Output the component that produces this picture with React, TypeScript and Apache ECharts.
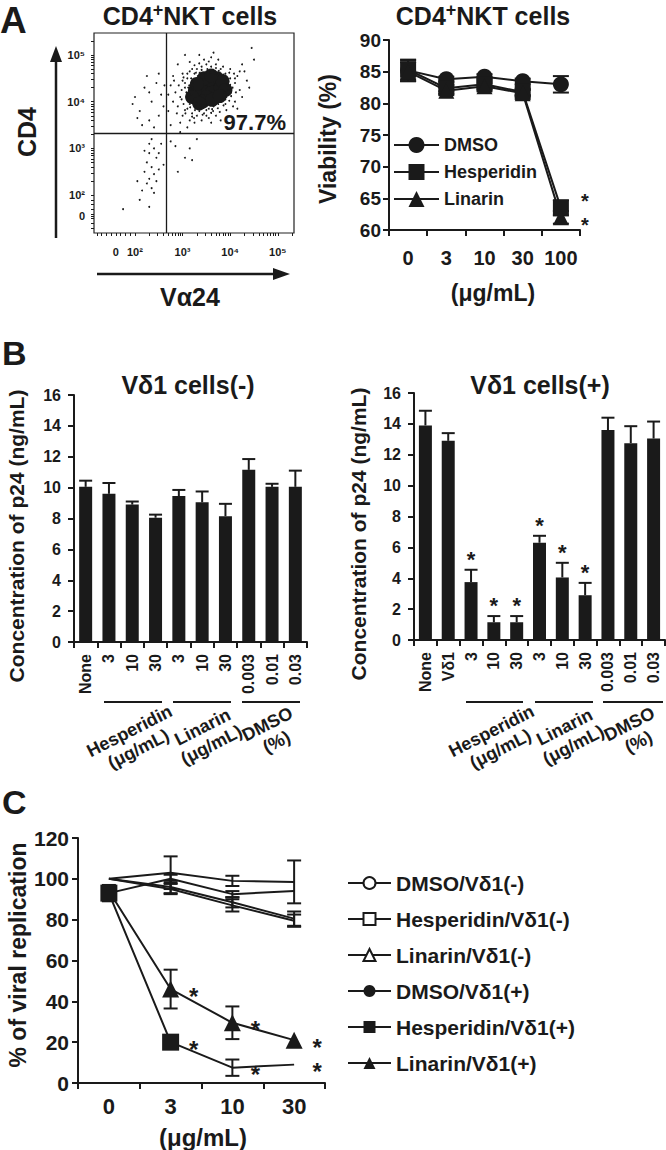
import React, { useEffect, useRef } from 'react';
import * as echarts from 'echarts';

const FONT = 'Liberation Sans, Arial, Helvetica, sans-serif';
const INK = '#1a1a1a';

// ---------------- Panel A: flow cytometry dot plot ----------------
const flowTitle = '{a|CD4}{s|+}{a|NKT cells}';
const flowXName = 'Vα24';
const flowYName = 'CD4';
const flowTickPosX = [1.6, 2, 3, 4, 5];
const flowTickPosY = [1.55, 2, 3, 4, 5];
const flowTickLabels = ['0', '10²', '10³', '10⁴', '10⁵'];
const flowGateX = 2.65;
const flowGateY = 3.33;
const flowPercent = '97.7%';
// dense core of the population (log-decade units)
const flowCore: [number, number][] = [
  [3.52, 4.29], [3.36, 4.2], [3.68, 4.38], [3.42, 4.36], [3.62, 4.2], [3.3, 4.06], [3.5, 4.1],
  [3.72, 4.5], [3.56, 4.48], [3.8, 4.3], [3.26, 4.24], [3.42, 4.0], [3.62, 4.04], [3.84, 4.44],
  [3.45, 4.5], [3.2, 4.1], [3.9, 4.25], [3.3, 4.38], [3.78, 4.12], [3.6, 4.56], [3.35, 3.96],
];
// individual events
const flowDots: [number, number][] = [
  [2.9, 3.9], [2.95, 4.1], [3.0, 3.7], [3.05, 4.3], [3.1, 3.85], [3.1, 4.5], [3.15, 3.6], [3.0, 4.45],
  [2.85, 4.2], [3.2, 3.75], [3.25, 4.6], [3.3, 3.7], [3.3, 4.7], [3.35, 3.8], [3.4, 4.75], [3.45, 3.75],
  [3.5, 4.8], [3.55, 3.85], [3.6, 4.75], [3.65, 3.9], [3.7, 4.8], [3.75, 3.95], [3.8, 4.7], [3.85, 4.05],
  [3.9, 4.6], [3.95, 4.15], [4.0, 4.5], [4.05, 4.3], [4.1, 4.4], [4.0, 4.7], [3.9, 3.95], [4.15, 4.55],
  [4.2, 4.25], [3.75, 4.9], [3.6, 4.95], [3.45, 4.9], [4.3, 4.65], [2.95, 3.55], [3.1, 3.45], [3.25, 3.55],
  [3.4, 3.6], [3.55, 3.65], [3.7, 3.7], [2.8, 4.0], [2.75, 4.35], [3.15, 4.65], [3.0, 4.6], [4.1, 4.0],
  [4.25, 4.8], [4.35, 4.45], [3.12, 4.0], [3.18, 4.15], [3.28, 3.9], [3.38, 3.92], [3.48, 3.95],
  [3.58, 4.62], [3.68, 4.65], [3.78, 4.62], [3.88, 4.2], [3.95, 4.35], [3.22, 4.42], [3.32, 4.55],
  [3.92, 4.1], [3.08, 4.2], [3.02, 3.95], [2.98, 4.25], [3.06, 3.75], [3.14, 4.35], [3.24, 3.65],
  [3.36, 4.62], [3.5, 3.7], [3.64, 3.8], [3.82, 4.55], [4.02, 4.2], [4.08, 4.6], [2.92, 4.35],
  [3.15, 3.95], [3.12, 4.3], [3.18, 4.5], [3.28, 4.62], [3.4, 4.68], [3.52, 4.7], [3.64, 4.68],
  [3.76, 4.66], [3.86, 4.58], [3.95, 4.48], [4.0, 4.36], [4.02, 4.12], [3.98, 4.02], [3.86, 3.92],
  [3.74, 3.86], [3.62, 3.84], [3.5, 3.82], [3.38, 3.84], [3.26, 3.82], [3.16, 3.88], [3.08, 4.1],
  [3.05, 4.4], [3.1, 4.6], [3.2, 4.7], [3.35, 4.82], [3.55, 4.86], [3.7, 4.72], [3.85, 4.75],
  [3.98, 4.62], [4.1, 4.5], [4.12, 4.2], [4.06, 3.9], [3.92, 3.82], [3.78, 3.78], [3.6, 3.76],
  [3.42, 3.72], [3.2, 3.68], [3.05, 3.82], [2.98, 4.05], [3.02, 4.52], [3.25, 4.78], [3.48, 4.62],
  [3.7, 4.58], [3.3, 3.98], [3.22, 4.3], [3.9, 4.05], [3.96, 4.25], [2.88, 3.75], [2.82, 4.45],
  [4.2, 4.65], [4.25, 4.1], [3.65, 5.05], [3.35, 5.0], [3.15, 4.85], [2.95, 3.35], [3.6, 3.55],
  [3.8, 3.6], [4.15, 3.85],
  [2.0, 4.1], [2.1, 3.8], [2.2, 4.3], [2.3, 3.6], [2.35, 4.0], [2.45, 4.4], [2.5, 3.7], [2.55, 4.15],
  [2.6, 3.9], [2.15, 3.5], [2.4, 3.45], [2.25, 4.55], [2.05, 3.65], [2.5, 4.6], [1.95, 3.95], [2.62, 4.35],
  [2.3, 4.2], [2.7, 3.8], [2.75, 3.5], [2.8, 4.55], [2.7, 4.15], [4.4, 4.3], [4.5, 4.9], [4.45, 5.15],
  [2.9, 4.8], [3.05, 5.0], [2.35, 3.2], [2.4, 3.0], [2.3, 2.9], [2.45, 2.8], [2.25, 2.7], [2.35, 2.6],
  [2.5, 2.55], [2.2, 2.5], [2.4, 2.45], [2.3, 2.35], [2.45, 2.3], [2.25, 2.25], [2.35, 2.15], [2.15, 2.1],
  [2.4, 2.05], [2.5, 2.9], [2.55, 3.1], [2.2, 2.95], [2.1, 1.9], [2.3, 1.75], [1.75, 1.7], [2.05, 2.3],
  [2.6, 2.65], [2.3, 3.1], [2.75, 3.15], [2.85, 3.05], [3.05, 2.8], [3.15, 3.0], [2.9, 2.5], [3.3, 3.2],
  [3.2, 2.75],
];

// ---------------- Panel A: viability ----------------
const vCats = ['0', '3', '10', '30', '100'];
const vDMSO = [85.2, 83.8, 84.2, 83.5, 83.0];
const vDMSOErr = [1.7, 0.4, 0.4, 0.4, 1.3];
const vHesp = [85.3, 82.4, 83.0, 81.8, 63.5];
const vHespErr = [1.5, 0.5, 0.5, 0.5, 1.2];
const vLin = [85.0, 82.0, 82.7, 81.6, 62.0];
const vLinErr = [1.5, 0.5, 0.5, 0.5, 1.0];
const vStarIdx = 4;
const vYTitle = 'Viability (%)';
const vXTitle = '(μg/mL)';

// ---------------- Panel B ----------------
const bCatsL = ['None', '3', '10', '30', '3', '10', '30', '0.003', '0.01', '0.03'];
const bValsL = [10.05, 9.6, 8.9, 8.05, 9.45, 9.05, 8.15, 11.15, 10.05, 10.05];
const bErrL = [0.4, 0.7, 0.2, 0.2, 0.4, 0.7, 0.8, 0.7, 0.2, 1.05];
const bCatsR = ['None', 'Vδ1', '3', '10', '30', '3', '10', '30', '0.003', '0.01', '0.03'];
const bValsR = [13.9, 12.9, 3.75, 1.15, 1.15, 6.3, 4.05, 2.9, 13.6, 12.75, 13.05];
const bErrR = [0.95, 0.5, 0.8, 0.4, 0.4, 0.45, 0.95, 0.8, 0.8, 1.1, 1.1];
const bStarIdxR = [2, 3, 4, 5, 6, 7];
const bTitleL = 'Vδ1 cells(-)';
const bTitleR = 'Vδ1 cells(+)';
const bYTitle = 'Concentration of p24 (ng/mL)';
const bGroups = ['Hesperidin\n(μg/mL)', 'Linarin\n(μg/mL)', 'DMSO\n(%)'];

// ---------------- Panel C ----------------
const cCats = ['0', '3', '10', '30'];
const cNames = ['DMSO/Vδ1(-)', 'Hesperidin/Vδ1(-)', 'Linarin/Vδ1(-)', 'DMSO/Vδ1(+)', 'Hesperidin/Vδ1(+)', 'Linarin/Vδ1(+)'];
const cDMSOm = [100, 96, 88.5, 80.5];
const cDMSOmErr = [0, 3, 2.5, 3.5];
const cHespm = [100, 103, 99, 98.5];
const cHespmErr = [0, 8, 2.5, 10.5];
const cLinm = [100, 95, 87, 79.5];
const cLinmErr = [0, 2.5, 3, 3];
const cDMSOp = [93, 100, 92.5, 94];
const cDMSOpErr = [0, 2, 1.5, 0];
const cHespp = [93, 20, 7.5, 9];
const cHesppErr = [4, 0, 4, 0];
const cLinp = [94, 46, 29.5, 21];
const cLinpErr = [0, 9.5, 8, 0];
const cStarIdx = [1, 2, 3];
const cYTitle = '% of viral replication';
const cXTitle = '(μg/mL)';

// ------------------------------------------------------------------
const log10 = (v: number) => Math.log(v) / Math.LN10;
function flowMinor(lo: number, hi: number, lin: number[]) {
  const out: number[] = [...lin];
  for (let d = 2; d <= 5; d++) for (let k = 1; k <= 9; k++) out.push(d + log10(k));
  return out.filter((v) => v >= lo && v <= hi);
}

function labelFor(pos: number[], labels: string[]) {
  return (v: number) => {
    const i = pos.findIndex((p) => Math.abs(p - v) < 1e-6);
    return i >= 0 ? labels[i] : '';
  };
}

function errSeries(ax: number, vals: number[], errs: number[], cap: number, upOnly: boolean, z = 2) {
  const data = vals.map((v, i) => [i, v, v + errs[i], upOnly ? v : v - errs[i]]).filter((d, i) => errs[i] > 0);
  return {
    type: 'custom', xAxisIndex: ax, yAxisIndex: ax, z, silent: true, data,
    renderItem: (_p: any, api: any) => {
      const x = api.value(0);
      const hi = api.coord([x, api.value(2)]);
      const lo = api.coord([x, api.value(3)]);
      const style = { stroke: INK, lineWidth: 2 };
      const kids: any[] = [
        { type: 'line', shape: { x1: hi[0], y1: hi[1], x2: lo[0], y2: lo[1] }, style },
        { type: 'line', shape: { x1: hi[0] - cap, y1: hi[1], x2: hi[0] + cap, y2: hi[1] }, style },
      ];
      if (!upOnly) kids.push({ type: 'line', shape: { x1: lo[0] - cap, y1: lo[1], x2: lo[0] + cap, y2: lo[1] }, style });
      return { type: 'group', children: kids };
    },
  };
}

function starSeries(ax: number, pts: number[][], size: number, dx: number, dy: number) {
  return {
    type: 'custom', xAxisIndex: ax, yAxisIndex: ax, z: 6, silent: true, data: pts,
    renderItem: (_p: any, api: any) => {
      const c = api.coord([api.value(0), api.value(1)]);
      return {
        type: 'text', x: c[0] + dx, y: c[1] + dy + size * 0.21,
        style: { text: '*', font: `bold ${size}px ${FONT}`, fill: INK, align: 'center', verticalAlign: 'middle' },
      };
    },
  };
}

const txt = (text: string, x: number, y: number, size: number, o: any = {}) => ({
  type: 'text', x, y, rotation: o.rotation || 0, silent: true,
  style: {
    text, font: `bold ${size}px ${FONT}`, fill: INK, align: o.align || 'center',
    verticalAlign: o.va || 'middle', lineHeight: o.lineHeight, rich: o.rich,
  },
});

const axisLab = (size: number, extra: any = {}) => ({
  fontFamily: FONT, fontWeight: 'bold', fontSize: size, color: INK, ...extra,
});

function buildOption(): any {
  const grids = [
    { left: 94, top: 33, width: 200, height: 200, show: true, borderColor: '#222', borderWidth: 1.2 },
    { left: 389, top: 40, width: 191, height: 190 },
    { left: 74, top: 395, width: 233, height: 247 },
    { left: 414, top: 393, width: 251, height: 247 },
    { left: 78, top: 838, width: 247, height: 245 },
  ];
  const line2 = { show: true, lineStyle: { color: INK, width: 2 } };
  const tickOut = (len: number) => ({ show: true, inside: false, length: len, lineStyle: { color: INK, width: 2 } });

  const xAxis = [
    {
      gridIndex: 0, type: 'value', min: 1.14, max: 5.34, axisLine: { show: false }, splitLine: { show: false },
      axisTick: { show: true, length: 3, customValues: flowMinor(1.14, 5.34, [1.2, 1.3, 1.4, 1.5, 1.6, 1.7, 1.8, 1.9]), lineStyle: { color: INK, width: 1 } },
      axisLabel: { ...axisLab(11), margin: 13, customValues: flowTickPosX, formatter: labelFor(flowTickPosX, flowTickLabels) },
    },
    {
      gridIndex: 1, type: 'category', data: vCats, boundaryGap: true, axisLine: line2, axisTick: tickOut(6),
      axisLabel: axisLab(20, { margin: 18, interval: 0 }),
    },
    {
      gridIndex: 2, type: 'category', data: bCatsL, axisLine: line2, axisTick: tickOut(6),
      axisLabel: axisLab(16, { rotate: 90, margin: 12, interval: 0 }),
    },
    {
      gridIndex: 3, type: 'category', data: bCatsR, axisLine: line2, axisTick: tickOut(6),
      axisLabel: axisLab(16, { rotate: 90, margin: 12, interval: 0 }),
    },
    {
      gridIndex: 4, type: 'category', data: cCats, axisLine: line2, axisTick: tickOut(6),
      axisLabel: axisLab(22, { margin: 12, interval: 0 }),
    },
  ];
  const yAxis = [
    {
      gridIndex: 0, type: 'value', min: 1.19, max: 5.47, axisLine: { show: false }, splitLine: { show: false },
      axisTick: { show: true, length: 3, customValues: flowMinor(1.19, 5.47, [1.3, 1.4, 1.5, 1.55, 1.6, 1.7, 1.8, 1.9]), lineStyle: { color: INK, width: 1 } },
      axisLabel: { ...axisLab(11), margin: 9, customValues: flowTickPosY, formatter: labelFor(flowTickPosY, flowTickLabels) },
    },
    {
      gridIndex: 1, type: 'value', min: 60, max: 90, interval: 5, axisLine: line2, axisTick: tickOut(6),
      splitLine: { show: false }, axisLabel: axisLab(19, { margin: 8 }),
    },
    {
      gridIndex: 2, type: 'value', min: 0, max: 16, interval: 2, axisLine: line2, axisTick: tickOut(6),
      splitLine: { show: false }, axisLabel: axisLab(16, { margin: 13 }),
    },
    {
      gridIndex: 3, type: 'value', min: 0, max: 16, interval: 2, axisLine: line2, axisTick: tickOut(6),
      splitLine: { show: false }, axisLabel: axisLab(16, { margin: 13 }),
    },
    {
      gridIndex: 4, type: 'value', min: 0, max: 120, interval: 20, axisLine: line2, axisTick: tickOut(6),
      splitLine: { show: false }, axisLabel: axisLab(21, { margin: 9 }),
    },
  ];

  const lineBase = (ax: number, name: string, data: any[], symbol: string, size: number, fill: string) => ({
    type: 'line', name, xAxisIndex: ax, yAxisIndex: ax, data, symbol, symbolSize: size, showSymbol: true,
    lineStyle: { color: INK, width: 2 },
    itemStyle: { color: fill, borderColor: INK, borderWidth: fill === INK ? 0 : 1.8 },
    z: 4, silent: true,
  });

  const withSizes = (vals: number[], sizes: number[]) => vals.map((v, i) => ({ value: v, symbolSize: sizes[i] }));

  const series: any[] = [
    // flow
    {
      type: 'scatter', xAxisIndex: 0, yAxisIndex: 0, data: flowCore, symbolSize: 14,
      itemStyle: { color: INK, opacity: 1 }, silent: true, z: 3,
      markLine: {
        silent: true, symbol: ['none', 'none'], label: { show: false },
        lineStyle: { color: INK, type: 'solid', width: 1.3 },
        data: [{ xAxis: flowGateX }, { yAxis: flowGateY }],
      },
    },
    { type: 'scatter', xAxisIndex: 0, yAxisIndex: 0, data: flowDots, symbolSize: 1.9, itemStyle: { color: INK, opacity: 1 }, silent: true, z: 3 },

    // viability
    errSeries(1, vDMSO, vDMSOErr, 8, false),
    errSeries(1, vHesp, vHespErr, 8, false),
    errSeries(1, vLin, vLinErr, 8, false),
    lineBase(1, 'DMSO', vDMSO, 'circle', 16, INK),
    lineBase(1, 'Hesperidin', vHesp, 'rect', 16, INK),
    lineBase(1, 'Linarin', vLin, 'triangle', 16, INK),
    starSeries(1, [[vStarIdx, vHesp[vStarIdx]]], 20, 24, -11),
    starSeries(1, [[vStarIdx, vLin[vStarIdx]]], 20, 24, 3),

    // B left
    { type: 'bar', xAxisIndex: 2, yAxisIndex: 2, data: bValsL, barWidth: 13, itemStyle: { color: INK }, silent: true },
    errSeries(2, bValsL, bErrL, 6.5, true, 3),
    // B right
    { type: 'bar', xAxisIndex: 3, yAxisIndex: 3, data: bValsR, barWidth: 13, itemStyle: { color: INK }, silent: true },
    errSeries(3, bValsR, bErrR, 6.5, true, 3),
    starSeries(3, bStarIdxR.map((i) => [i, bValsR[i] + bErrR[i]]), 22, 0, -15),

    // C
    errSeries(4, cDMSOm, cDMSOmErr, 7, false),
    errSeries(4, cHespm, cHespmErr, 7, false),
    errSeries(4, cLinm, cLinmErr, 7, false),
    errSeries(4, cDMSOp, cDMSOpErr, 7, false),
    errSeries(4, cHespp, cHesppErr, 7, false),
    errSeries(4, cLinp, cLinpErr, 7, false),
    { ...lineBase(4, cNames[0], cDMSOm, 'circle', 12, '#fff'), showSymbol: false },
    { ...lineBase(4, cNames[1], cHespm, 'rect', 12, '#fff'), showSymbol: false },
    { ...lineBase(4, cNames[2], cLinm, 'triangle', 12, '#fff'), showSymbol: false },
    { ...lineBase(4, cNames[3], cDMSOp, 'circle', 12, INK), showSymbol: false },
    lineBase(4, cNames[4], withSizes(cHespp, [17, 17, 0, 0]), 'rect', 17, INK),
    lineBase(4, cNames[5], withSizes(cLinp, [0, 17, 17, 17]), 'triangle', 17, INK),
    starSeries(4, cStarIdx.map((i) => [i, cHespp[i]]), 24, 23, 2),
    starSeries(4, cStarIdx.map((i) => [i, cLinp[i]]), 24, 23, 2),
  ];

  const legendText = (size: number, lh: number) => ({ fontFamily: FONT, fontWeight: 'bold', fontSize: size, color: INK, lineHeight: lh });
  const legend = [
    {
      orient: 'vertical', left: 393, top: 135, padding: 0, itemWidth: 45, itemHeight: 20, itemGap: 7,
      selectedMode: false, data: ['DMSO', 'Hesperidin', 'Linarin'], textStyle: legendText(18, 20),
    },
    {
      orient: 'vertical', left: 347, top: 872, padding: 0, itemWidth: 43, itemHeight: 15, itemGap: 14,
      selectedMode: false, data: cNames, textStyle: legendText(21, 22),
    },
  ];

  const titleRich = {
    a: { fontFamily: FONT, fontWeight: 'bold', fontSize: 25, fill: INK, lineHeight: 30 },
    s: { fontFamily: FONT, fontWeight: 'bold', fontSize: 18, fill: INK, lineHeight: 16, verticalAlign: 'top' },
  };
  const rot = 0.47;
  const graphic: any[] = [
    txt('A', 0, 2, 37, { align: 'left', va: 'top' }),
    txt('B', 2, 336, 34, { align: 'left', va: 'top' }),
    txt('C', 2, 785, 34, { align: 'left', va: 'top' }),
    txt(flowTitle, 190, 16, 25, { rich: titleRich }),
    txt(flowTitle, 483, 16, 25, { rich: titleRich }),
    txt(flowPercent, 286, 122, 22, { align: 'right' }),
    txt(flowYName, 27, 132, 25, { rotation: Math.PI / 2 }),
    txt(flowXName, 190, 297, 25),
    { type: 'line', silent: true, shape: { x1: 56, y1: 238, x2: 56, y2: 60 }, style: { stroke: INK, lineWidth: 2.5 } },
    { type: 'polygon', silent: true, shape: { points: [[50, 62], [62, 62], [56, 46]] }, style: { fill: INK } },
    { type: 'line', silent: true, shape: { x1: 97, y1: 274, x2: 274, y2: 274 }, style: { stroke: INK, lineWidth: 2.5 } },
    { type: 'polygon', silent: true, shape: { points: [[273, 268], [273, 280], [290, 274]] }, style: { fill: INK } },
    txt(vYTitle, 328, 139, 23, { rotation: Math.PI / 2 }),
    txt(vXTitle, 493, 293, 23),
    txt(bTitleL, 188, 385, 25),
    txt(bTitleR, 540, 385, 25),
    txt(bYTitle, 16, 536, 21, { rotation: Math.PI / 2 }),
    txt(bYTitle, 358, 534, 21, { rotation: Math.PI / 2 }),
    txt(cYTitle, 18, 955, 23, { rotation: Math.PI / 2 }),
    txt(cXTitle, 203, 1137, 24),
  ];
  const groupLinesL = [[104, 162], [173, 231], [242, 300]];
  const groupLinesR = [[466, 523], [535, 593], [603, 663]];
  const groupLabL = [[134, 740], [207, 736], [272, 733]];
  [groupLinesL, groupLinesR].forEach((gl, side) => {
    gl.forEach(([a, b], i) => {
      graphic.push({ type: 'line', silent: true, shape: { x1: a, y1: 702, x2: b, y2: 702 }, style: { stroke: INK, lineWidth: 2 } });
      const [lx, ly] = groupLabL[i];
      graphic.push(txt(bGroups[i], lx + side * 362, ly, 18, { rotation: rot, lineHeight: 20 }));
    });
  });

  return { animation: false, backgroundColor: '#fff', grid: grids, xAxis, yAxis, series, legend, graphic };
}

export default function App() {
  const ref = useRef<HTMLDivElement>(null);
  useEffect(() => {
    const chart = echarts.init(ref.current!, null, { renderer: 'svg' });
    chart.setOption(buildOption());
    return () => chart.dispose();
  }, []);
  return <div ref={ref} style={{ position: 'absolute', left: 0, top: 0, width: 666, height: 1150, background: '#fff' }} />;
}
